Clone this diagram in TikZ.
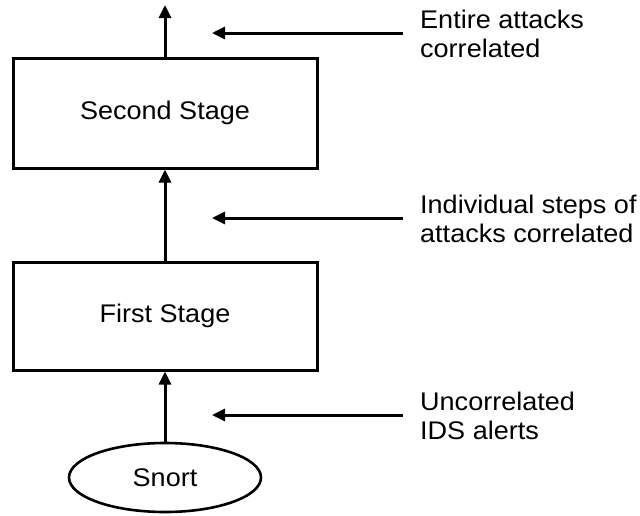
\documentclass[tikz,border=0pt]{standalone}
\usepackage{fontspec}
\setmainfont{Liberation Sans}[FakeStretch=1.06]
\usetikzlibrary{arrows.meta,shapes.geometric}

\tikzset{
  every node/.style={font=\fontsize{25.5}{29}\selectfont},
  stagebox/.style={draw, line width=3pt, minimum width=304pt, inner sep=0pt},
  srcnode/.style={draw, ellipse, line width=2.6pt, minimum width=192pt, minimum height=69pt, inner sep=0pt},
  flow/.style={line width=3pt, -{Triangle[length=13pt,width=12pt]}},
  % base anchor of a two-line note sits on its last line
  note/.style={align=left, inner sep=0pt, inner xsep=17pt, anchor=base west},
}

\begin{document}
\begin{tikzpicture}[x=1pt,y=-1pt]
  \useasboundingbox (0,0) rectangle (640,515);

  % processing chain
  \node[stagebox, minimum height=110pt] (second) at (165,113) {Second Stage};
  \node[stagebox, minimum height=108pt] (first)  at (165,316) {First Stage};
  \node[srcnode] (snort) at (165,477.5) {Snort};
  \coordinate (out) at (165,5);

  \draw[flow] (snort) -- (first);
  \draw[flow] (first) -- (second);
  \draw[flow] (second) -- (out);

  % annotations on the right
  \node[note] (n3) at (403,57)  {Entire attacks\\correlated};
  \node[note] (n2) at (403,242) {Individual steps of\\attacks correlated};
  \node[note] (n1) at (403,439) {Uncorrelated\\IDS alerts};

  \coordinate (t3) at (212,33);
  \coordinate (t2) at (212,218);
  \coordinate (t1) at (212,415);

  \draw[flow] (n3.west |- t3) -- (t3);
  \draw[flow] (n2.west |- t2) -- (t2);
  \draw[flow] (n1.west |- t1) -- (t1);
\end{tikzpicture}
\end{document}
